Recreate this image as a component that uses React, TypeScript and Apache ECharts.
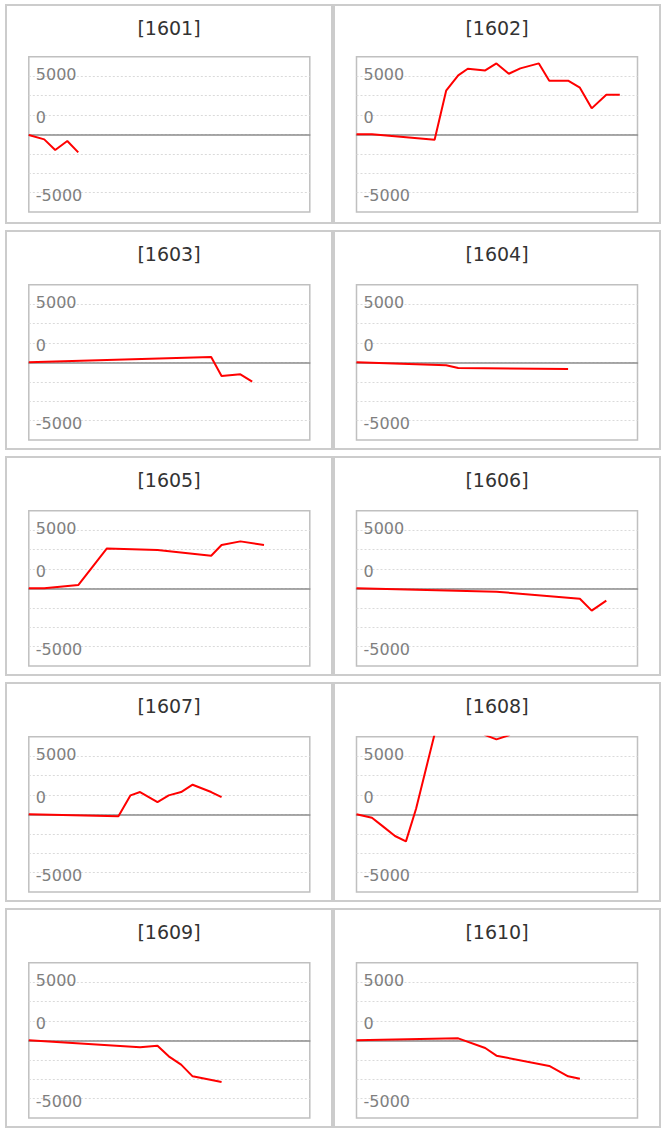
import React, { useEffect, useRef } from "react";
import * as echarts from "echarts";

// time positions (share of the period, %) common to all contracts
const T = [0, 5.5, 9.4, 13.7, 17.6, 21.2, 27.8, 31.9, 36.2, 39.6, 45.8, 49.8, 54.2, 58.3, 64.9, 68.6, 75.3, 79.5, 83.7, 88.9, 93.7];

const codes = ["1601", "1602", "1603", "1604", "1605", "1606", "1607", "1608", "1609", "1610"];

const _ = null;
const s1601 = [-60, -430, -1345, -572, -1545, _, _, _, _, _, _, _, _, _, _, _, _, _, _, _, _];
const s1602 = [0, 0, _, _, _, _, -458, 3746, 5062, 5634, 5491, 6092, 5205, 5663, 6092, 4605, 4605, 4004, 2231, 3404, 3404];
const s1603 = [0, _, _, _, _, _, _, _, _, _, _, _, _, _, 458, -1173, -1030, -1659, _, _, _];
const s1604 = [0, _, _, _, _, _, _, -257, -486, _, _, _, _, _, _, _, -572, _, _, _, _];
const s1605 = [0, 0, _, _, 286, _, 3432, _, _, _, 3289, _, _, _, 2803, 3718, 4033, _, 3718, _, _];
const s1606 = [0, _, _, _, _, _, _, _, _, _, _, -286, _, _, _, _, _, -887, -1916, -1058, _];
const s1607 = [0, _, _, _, _, _, _, -172, 1630, 1916, 1058, 1630, 1916, 2545, 1916, 1487, _, _, _, _, _];
const s1608 = [0, -286, -1030, -1859, -2317, 486, 6900, 9500, 10000, 8500, 6800, 6435, 6783, 8000, _, _, _, _, _, _, _];
const s1609 = [0, _, _, _, _, _, _, _, _, -601, -458, -1373, -2088, -3089, _, -3575, _, _, _, _, _];
const s1610 = [0, _, _, _, _, _, _, _, 172, _, -658, -1316, _, _, _, -2202, -3089, -3289, _, _, _];

const seriesValues = [s1601, s1602, s1603, s1604, s1605, s1606, s1607, s1608, s1609, s1610];

const yLabels = { top: "5000", mid: "0", bottom: "-5000" };

const FONT = '"DejaVu Sans", Verdana, sans-serif';
const panelLeft = [5, 333];
const panelTop = [4, 230, 456, 682, 908];
const plotLeft = [28.8, 356.5];
const plotTop = [56.7, 284.7, 510.7, 736.7, 962.7];

export default function App() {
  const ref = useRef<HTMLDivElement>(null);
  useEffect(() => {
    if (!ref.current) return;
    const chart = echarts.init(ref.current, undefined, { renderer: "svg" });
    const grids: any[] = [];
    const xAxes: any[] = [];
    const yAxes: any[] = [];
    const series: any[] = [];
    const graphics: any[] = [];
    codes.forEach((code, i) => {
      const c = i % 2;
      const r = Math.floor(i / 2);
      const x0 = panelLeft[c];
      const y0 = panelTop[r];
      graphics.push({
        type: "rect",
        z: -10,
        shape: { x: x0 + 1, y: y0 + 1, width: 326, height: 218 },
        style: { fill: "#ffffff", stroke: "#cccccc", lineWidth: 2 },
        silent: true,
      });
      graphics.push({
        type: "text",
        z: 10,
        style: {
          text: "[" + code + "]",
          x: x0 + 164,
          y: y0 + 23.5,
          font: "19px " + FONT,
          fill: "#333333",
          align: "center",
          verticalAlign: "middle",
          textAlign: "center",
          textVerticalAlign: "middle",
        },
        silent: true,
      });
      grids.push({
        left: plotLeft[c],
        top: plotTop[r],
        width: 281,
        height: 155.3,
        show: true,
        borderColor: "#c0c0c0",
        borderWidth: 1.5,
        backgroundColor: "transparent",
        containLabel: false,
      });
      xAxes.push({
        gridIndex: i,
        type: "value",
        min: 0,
        max: 100,
        axisLabel: { show: false },
        axisTick: { show: false },
        splitLine: { show: false },
        axisLine: { show: true, onZero: true, lineStyle: { color: "#8c8c8c", width: 1.5 } },
      });
      yAxes.push({
        gridIndex: i,
        type: "value",
        min: -20000 / 3,
        max: 20000 / 3,
        interval: 5000 / 3,
        axisLine: { show: false },
        axisTick: { show: false },
        splitLine: {
          show: true,
          showMinLine: false,
          showMaxLine: false,
          lineStyle: { color: "#dadada", width: 1, type: [2, 2] },
        },
        axisLabel: {
          inside: true,
          margin: 7,
          color: "#7f7f7f",
          fontFamily: FONT,
          fontSize: 16,
          formatter: (v: number) => {
            if (Math.abs(v - 5000) < 1) return "{a|" + yLabels.top + "}";
            if (Math.abs(v) < 1) return "{b|" + yLabels.mid + "}";
            if (Math.abs(v + 5000) < 1) return "{c|" + yLabels.bottom + "}";
            return "";
          },
          rich: {
            a: { color: "#7f7f7f", fontFamily: FONT, fontSize: 16, padding: [0, 0, 3, 0] },
            b: { color: "#7f7f7f", fontFamily: FONT, fontSize: 16, padding: [0, 0, 34, 0] },
            c: { color: "#7f7f7f", fontFamily: FONT, fontSize: 16, padding: [5, 0, 0, 0] },
          },
        },
      });
      const vals = seriesValues[i];
      const data = T.map((t, k) => [t, vals[k]]).filter((p) => p[1] !== null);
      series.push({
        type: "line",
        name: code,
        xAxisIndex: i,
        yAxisIndex: i,
        data,
        showSymbol: false,
        symbol: "none",
        clip: true,
        lineStyle: { color: "#ff0000", width: 2 },
        itemStyle: { color: "#ff0000" },
        z: 5,
      });
    });
    chart.setOption({
      animation: false,
      backgroundColor: "#ffffff",
      grid: grids,
      xAxis: xAxes,
      yAxis: yAxes,
      series,
      graphic: { elements: graphics },
    });
    return () => chart.dispose();
  }, []);
  return (
    <div
      ref={ref}
      style={{ position: "absolute", left: 0, top: 0, width: 665, height: 1133 }}
    />
  );
}
